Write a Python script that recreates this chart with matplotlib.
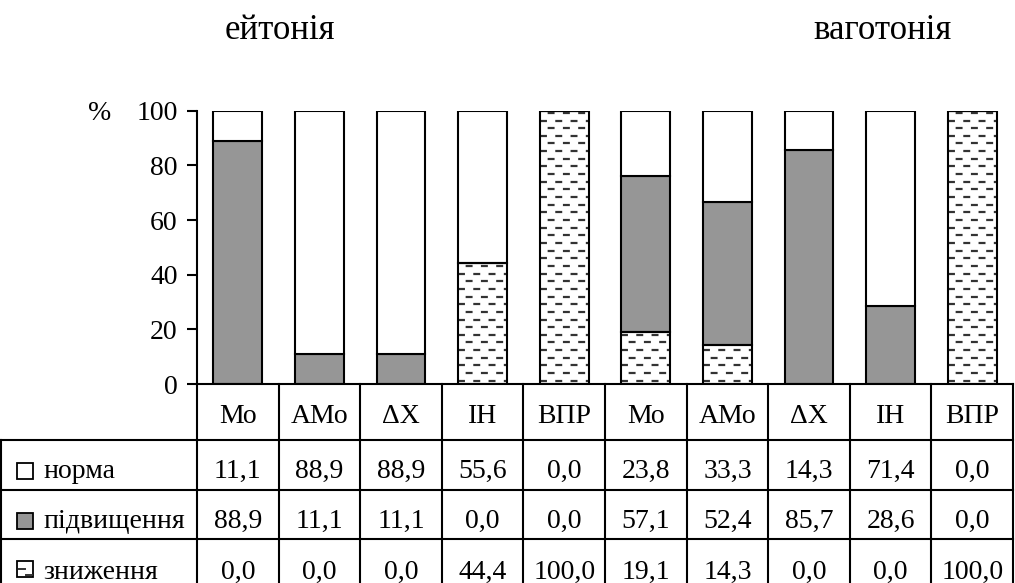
import matplotlib
matplotlib.use('Agg')
import matplotlib.pyplot as plt
import matplotlib.transforms as mtransforms
from matplotlib.patches import Rectangle
from matplotlib.lines import Line2D

plt.rcParams.update({'font.family': ['Liberation Serif', 'DejaVu Serif'],
                     'font.size': 20,
                     'lines.scale_dashes': False})

# дані
categories = ['Мо', 'АМо', 'ΔХ', 'ІН', 'ВПР', 'Мо', 'АМо', 'ΔХ', 'ІН', 'ВПР']
norma = [11.1, 88.9, 88.9, 55.6, 0.0, 23.8, 33.3, 14.3, 71.4, 0.0]
pidvyshchennia = [88.9, 11.1, 11.1, 0.0, 0.0, 57.1, 52.4, 85.7, 28.6, 0.0]
znyzhennia = [0.0, 0.0, 0.0, 44.4, 100.0, 19.1, 14.3, 0.0, 0.0, 100.0]
row_names = ['норма', 'підвищення', 'зниження']
groups = ['ейтонія', 'ваготонія']
yticks = [0, 20, 40, 60, 80, 100]

W, H = 1015, 583
def fx(px):
    return px / W
def fy(py):
    return 1 - py / H

fig = plt.figure(figsize=(W / 100, H / 100), dpi=100)
ax = fig.add_axes([fx(197), fy(384), fx(1013) - fx(197), fy(110.7) - fy(384)])

x = list(range(len(categories)))
gray = '#969696'
b1 = ax.bar(x, znyzhennia, width=0.6, color='white', edgecolor='black', linewidth=1.5)
bottom2 = znyzhennia
b2 = ax.bar(x, pidvyshchennia, width=0.6, bottom=bottom2, color=gray, edgecolor='black', linewidth=1.5)
bottom3 = [a + b for a, b in zip(znyzhennia, pidvyshchennia)]
b3 = ax.bar(x, norma, width=0.6, bottom=bottom3, color='white', edgecolor='black', linewidth=1.5)

# штрихування "зниження" (пунктирні рядки)
step = 2.8
for p in b1.patches:
    h = p.get_height()
    if h <= 0:
        continue
    x0 = p.get_x()
    x1 = x0 + p.get_width()
    y = p.get_y() + 1.2
    k = 0
    while y < p.get_y() + h:
        ln = ax.plot([x0, x1], [y, y], color='#333333', lw=1.6,
                     linestyle=(0 if k % 2 == 0 else 5.5, (5.0, 6.0)),
                     solid_capstyle='butt', dash_capstyle='butt', zorder=2.5)[0]
        ln.set_clip_path(p)
        y += step
        k += 1
    p.set_zorder(2.6)
    p.set_facecolor('none')

ax.set_xlim(-0.5, len(categories) - 0.5)
ax.set_ylim(0, 100)
ax.set_yticks(yticks)
ax.set_xticks([])
ax.tick_params(axis='y', direction='out', length=7, width=1.5, pad=7, labelsize=20)
for s in ['top', 'right']:
    ax.spines[s].set_visible(False)
ax.spines['left'].set_linewidth(1.5)
ax.spines['bottom'].set_linewidth(1.5)

fig.text(fx(100), fy(120), '%', ha='center', va='baseline', fontsize=20)
fig.text(fx(280), fy(39), groups[0], ha='center', va='baseline', fontsize=25)
fig.text(fx(882), fy(39), groups[1], ha='center', va='baseline', fontsize=25)

# таблиця під графіком
trans = mtransforms.blended_transform_factory(ax.transData, fig.transFigure)
lw = 1.5
for i in range(len(categories) + 1):
    fig.add_artist(Line2D([i - 0.5, i - 0.5], [fy(384), 0], transform=trans, color='black', lw=lw))
for py in [440, 490, 539]:
    fig.add_artist(Line2D([0, fx(1013)], [fy(py), fy(py)], transform=fig.transFigure, color='black', lw=lw))
fig.add_artist(Line2D([fx(0.8), fx(0.8)], [fy(440), 0], transform=fig.transFigure, color='black', lw=lw))

for i, c in enumerate(categories):
    fig.text(i, fy(423), c, transform=trans, ha='center', va='baseline', fontsize=20)

baselines = [478, 528, 579]
for r, vals in enumerate([norma, pidvyshchennia, znyzhennia]):
    for i, v in enumerate(vals):
        fig.text(i, fy(baselines[r]), f'{v:.1f}'.replace('.', ','), transform=trans,
                 ha='center', va='baseline', fontsize=20)
    fig.text(fx(43), fy(baselines[r]), row_names[r], ha='left', va='baseline', fontsize=20)

# маркери легенди
box_tops = [463, 513, 561]
faces = ['white', gray, 'white']
for r in range(3):
    rect = Rectangle((fx(17), fy(box_tops[r] + 16)), fx(16), fy(box_tops[r]) - fy(box_tops[r] + 16),
                     transform=fig.transFigure, facecolor=faces[r], edgecolor='black', lw=1.3)
    fig.add_artist(rect)
fig.add_artist(Line2D([fx(19), fx(25)], [fy(569), fy(569)], transform=fig.transFigure, color='#333333', lw=1.4))
fig.add_artist(Line2D([fx(26), fx(32)], [fy(575), fy(575)], transform=fig.transFigure, color='#333333', lw=1.4))

fig.savefig('out.png', dpi=100)
